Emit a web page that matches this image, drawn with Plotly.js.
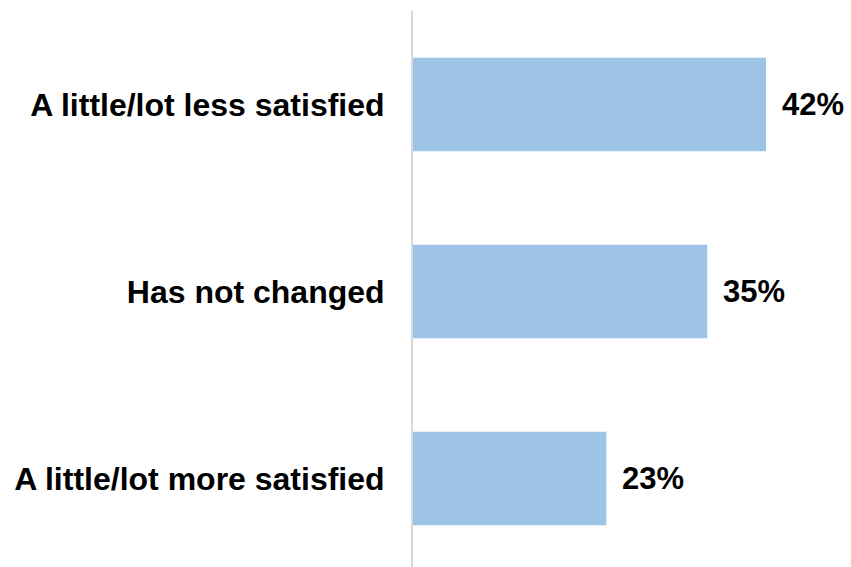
<!DOCTYPE html>
<html>
<head>
<meta charset="utf-8">
<script src="https://cdn.plot.ly/plotly-3.0.1.min.js"></script>
<style>html,body{margin:0;padding:0;background:#fff;}#chart{width:851px;height:567px;}</style>
</head>
<body>
<div id="chart"></div>
<script>
var categories = ["A little/lot more satisfied", "Has not changed", "A little/lot less satisfied"];
var values = [23, 35, 42];
var labels = ["23%", "35%", "42%"];

var font = "Liberation Sans, Arial, sans-serif";

var trace = {
  type: "bar",
  orientation: "h",
  y: categories,
  x: values,
  width: 0.5,
  marker: {color: "#9DC3E6"},
  hoverinfo: "none"
};

var annotations = categories.map(function (c, i) {
  return {
    x: values[i], y: c, xref: "x", yref: "y",
    text: "<b>" + labels[i] + "</b>",
    showarrow: false, xanchor: "left", yanchor: "middle",
    xshift: 14,
    font: {family: font, size: 31, color: "#000"}
  };
});

var layout = {
  width: 851, height: 567,
  margin: {l: 413, r: 0, t: 11, b: 0},
  paper_bgcolor: "#fff", plot_bgcolor: "#fff",
  showlegend: false,
  xaxis: {range: [0, 52.1], visible: false, fixedrange: true},
  yaxis: {
    type: "category",
    range: [-0.473, 2.5],
    showline: true, linecolor: "#D9D9D9", linewidth: 2,
    showgrid: false, zeroline: false,
    ticks: "", ticklabelstandoff: 20,
    tickfont: {family: font, size: 32, color: "#000", weight: "bold"}
  },
  annotations: annotations
};

Plotly.newPlot("chart", [trace], layout, {staticPlot: true, displayModeBar: false});
</script>
</body>
</html>
